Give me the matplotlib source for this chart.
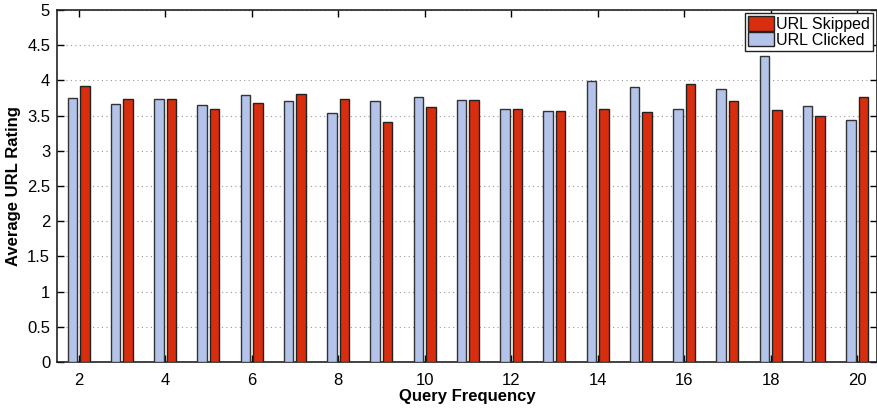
import numpy as np
import matplotlib
matplotlib.use('Agg')
import matplotlib.pyplot as plt
from matplotlib.patches import Patch

plt.rcParams['font.family'] = ['Liberation Sans', 'DejaVu Sans']

# query frequency 2..20
freq = [2, 3, 4, 5, 6, 7, 8, 9, 10, 11, 12, 13, 14, 15, 16, 17, 18, 19, 20]
clicked = [3.75, 3.66, 3.74, 3.65, 3.79, 3.70, 3.53, 3.70, 3.76, 3.72,
           3.60, 3.57, 3.99, 3.90, 3.59, 3.88, 4.34, 3.64, 3.43]
skipped = [3.92, 3.73, 3.74, 3.59, 3.68, 3.80, 3.73, 3.41, 3.62, 3.72,
           3.59, 3.57, 3.60, 3.55, 3.95, 3.70, 3.575, 3.49, 3.76]

c_click = '#b4c3ea'
c_skip = '#d92e0e'

fig = plt.figure(figsize=(8.78, 4.08), dpi=100)
ax = fig.add_axes([0.065, 0.113, 0.9335, 0.8625])

x = np.array(freq)
w = 0.22
ax.bar(x - 0.145, clicked, w, color=c_click, edgecolor='#333333', linewidth=1.0, zorder=3)
ax.bar(x + 0.145, skipped, w, color=c_skip, edgecolor='#222222', linewidth=1.0, zorder=3)

ax.set_xlim(1.5, 20.45)
ax.set_ylim(0, 5)
ax.set_yticks(np.arange(0, 5.01, 0.5))
ax.set_yticklabels(['0', '0.5', '1', '1.5', '2', '2.5', '3', '3.5', '4', '4.5', '5'])
ax.set_xticks(range(2, 21, 2))
ax.yaxis.grid(True, linestyle=(0, (1, 3)), color='#999999', linewidth=0.8, zorder=0)
ax.tick_params(direction='in', top=True, right=True, labelsize=12, length=5, width=1)
ax.tick_params(axis='x', pad=8)
ax.tick_params(axis='y', pad=5)
for s in ax.spines.values():
    s.set_linewidth(1.2)
    s.set_color('#222222')

ax.set_xlabel('Query Frequency', fontsize=12, fontweight='bold', labelpad=1)
ax.set_ylabel('Average URL Rating', fontsize=12, fontweight='bold', labelpad=4)

handles = [Patch(facecolor=c_skip, edgecolor='#222222', label='URL Skipped'),
           Patch(facecolor=c_click, edgecolor='#222222', label='URL Clicked')]
leg = ax.legend(handles=handles, loc='upper right', fontsize=11.5, frameon=True,
                fancybox=False, framealpha=1, edgecolor='#222222',
                handlelength=1.6, handleheight=1.0, handletextpad=0.15,
                labelspacing=0.0, borderpad=0.2, borderaxespad=0.2)
leg.get_frame().set_linewidth(1.0)

fig.savefig('out.png', dpi=100)
